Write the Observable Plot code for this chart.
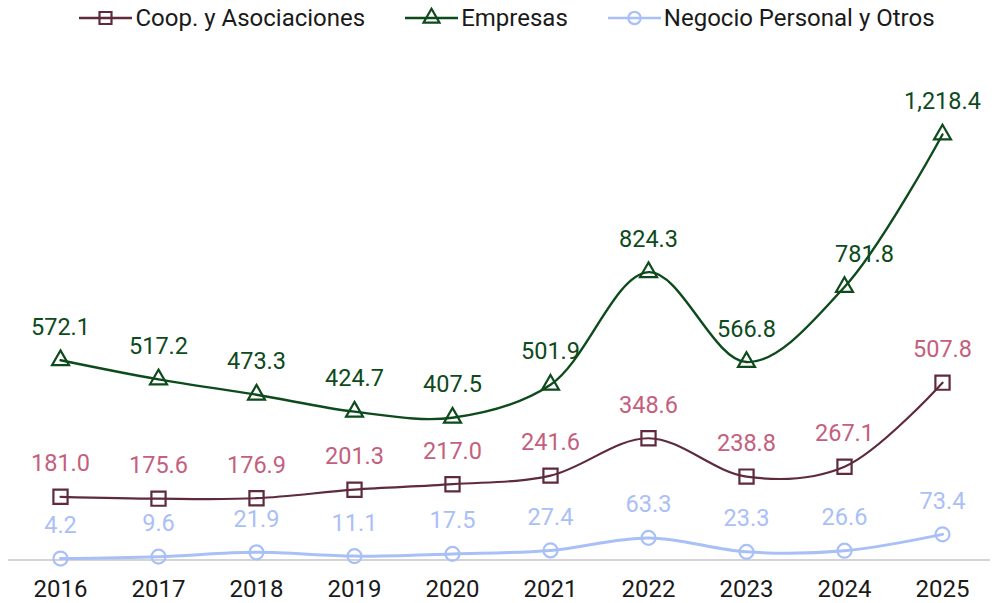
<!DOCTYPE html>
<html><head><meta charset="utf-8">
<script src="https://cdn.jsdelivr.net/npm/d3@7"></script>
<script src="https://cdn.jsdelivr.net/npm/@observablehq/plot@0.6"></script>
<style>
body{margin:0;background:#fff;font-family:Roboto,"Noto Sans",sans-serif;}
#legend{height:36px;display:flex;justify-content:center;align-items:center;gap:40px;font-size:24px;color:#1a1a1a;padding-left:22px;}
#legend .it{display:flex;align-items:center;gap:3px;}
</style></head><body>
<div id="legend"></div>
<div id="chart"></div>
<script>
const years = [2016,2017,2018,2019,2020,2021,2022,2023,2024,2025];
const seriesNames = ["Coop. y Asociaciones","Empresas","Negocio Personal y Otros"];
const coop = [181.0,175.6,176.9,201.3,217.0,241.6,348.6,238.8,267.1,507.8];
const empresas = [572.1,517.2,473.3,424.7,407.5,501.9,824.3,566.8,781.8,1218.4];
const negocio = [4.2,9.6,21.9,11.1,17.5,27.4,63.3,23.3,26.6,73.4];

const styles = {
  "Coop. y Asociaciones": {line:"#5e2a3c", label:"#c4607e", symbol:"square", r:8, sw:2.2},
  "Empresas": {line:"#0d4a1c", label:"#0d4a1c", symbol:"triangle", r:6.3, sw:2.4},
  "Negocio Personal y Otros": {line:"#a9c0f7", label:"#a9c0f7", symbol:"circle", r:7, sw:3}
};
const vals = [coop, empresas, negocio];
const data = [];
seriesNames.forEach((s,i)=>years.forEach((y,j)=>data.push({series:s, year:String(y), value:vals[i][j]})));

const fmt = d3.format(",.1f");
const marks = [
  Plot.ruleY([0], {stroke:"#d4d4d4", strokeWidth:2, insetLeft:-51, insetRight:-48})
];
for (const s of seriesNames) {
  const st = styles[s];
  const d = data.filter(e=>e.series===s);
  const shifted = e => s==="Empresas" && e.year==="2024";
  marks.push(Plot.text(d.filter(e=>!shifted(e)), {x:"year", y:"value", text:e=>fmt(e.value), dy:-33, fill:st.label, fontSize:23.5, fontFamily:"Roboto"}));
  marks.push(Plot.text(d.filter(shifted), {x:"year", y:"value", text:e=>fmt(e.value), dy:-33, dx:20, fill:st.label, fontSize:23.5, fontFamily:"Roboto"}));
  marks.push(Plot.line(d, {x:"year", y:"value", stroke:st.line, strokeWidth:st.sw, curve:"catmull-rom"}));
  marks.push(Plot.dot(d, {x:"year", y:"value", symbol:st.symbol, r:st.r, stroke:st.line, strokeWidth:2.2, fill:"none"}));
}

const chart = Plot.plot({
  width:992, height:567,
  marginLeft:59, marginRight:50, marginTop:98, marginBottom:43.5,
  style:{fontFamily:"Roboto", background:"#fff"},
  x:{type:"point", domain:years.map(String), padding:0, axis:null},
  y:{domain:[0,1218.4], axis:null},
  marks: [...marks, Plot.axisX({tickSize:0, tickPadding:20, fontSize:24, fill:"#1a1a1a", label:null})]
});
document.getElementById("chart").appendChild(chart);

const leg = document.getElementById("legend");
for (const s of seriesNames) {
  const st = styles[s];
  const it = document.createElement("div"); it.className="it";
  const symType = st.symbol==="square"?d3.symbolSquare:st.symbol==="triangle"?d3.symbolTriangle:d3.symbolCircle;
  const sym = d3.symbol(symType, st.symbol==="square"?144:st.symbol==="triangle"?110:120)();
  it.innerHTML = `<svg width="53" height="22"><line x1="0" x2="53" y1="11" y2="11" stroke="${st.line}" stroke-width="2.5"/><path d="${sym}" transform="translate(26.5,11)" fill="none" stroke="${st.line}" stroke-width="2.2"/></svg><span>${s}</span>`;
  leg.appendChild(it);
}
</script>
</body></html>
